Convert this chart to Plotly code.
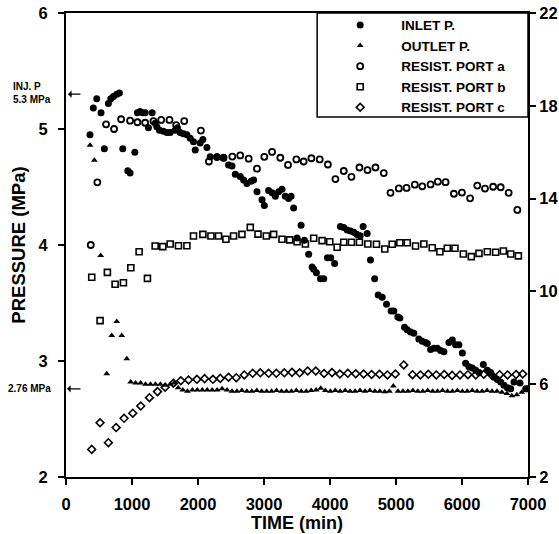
import plotly.graph_objects as go

# ---------------- data ----------------
inlet_t = [364, 414, 466, 531, 581, 642, 678, 718, 769, 809, 860, 936, 971, 1043, 1082, 1123, 1164, 1199,
           1249, 1305, 1351, 1376, 1416, 1477, 1528, 1578, 1654, 1689, 1730, 1780, 1832, 1882, 1932, 1958,
           2033, 2074, 2135, 2185, 2287, 2387, 2463, 2515, 2565, 2640, 2691, 2742, 2803, 2842, 2894, 2970,
           3005, 3070, 3122, 3172, 3222, 3273, 3323, 3373, 3410, 3449, 3501, 3562, 3612, 3677, 3729, 3753,
           3794, 3855, 3905, 3961, 4011, 4070, 4158, 4208, 4260, 4310, 4360, 4411, 4457, 4502, 4563, 4613,
           4677, 4730, 4791, 4856, 4927, 4967, 5028, 5058, 5129, 5170, 5220, 5270, 5346, 5398, 5448, 5474,
           5524, 5574, 5625, 5675, 5726, 5801, 5853, 5903, 5953, 6005, 6055, 6105, 6157, 6207, 6257, 6323,
           6384, 6434, 6484, 6536, 6586, 6636, 6688, 6738, 6788, 6879, 6965, 7000]
inlet_p = [4.95, 5.18, 5.26, 5.14, 4.83, 5.22, 5.26, 5.28, 5.30, 5.31, 4.83, 4.64, 4.62, 4.80, 5.14, 5.15, 5.14, 5.14,
           5.01, 5.14, 5.05, 5.02, 4.99, 4.98, 4.97, 4.97, 4.99, 5.01, 4.97, 4.96, 4.95, 4.92, 4.89, 4.82,
           4.88, 4.91, 4.84, 4.76, 4.76, 4.75, 4.69, 4.68, 4.61, 4.59, 4.56, 4.53, 4.55, 4.56, 4.46, 4.39,
           4.34, 4.47, 4.45, 4.42, 4.46, 4.48, 4.42, 4.40, 4.42, 4.32, 4.06, 4.17, 4.04, 3.92, 3.81, 3.79,
           3.76, 3.71, 3.71, 3.89, 3.89, 3.84, 4.16, 4.15, 4.13, 4.12, 4.11, 4.09, 4.08, 4.16, 4.10, 3.87,
           3.71, 3.57, 3.55, 3.49, 3.43, 3.43, 3.38, 3.37, 3.29, 3.27, 3.25, 3.24, 3.19, 3.17, 3.16, 3.15,
           3.10, 3.11, 3.11, 3.09, 3.08, 3.16, 3.18, 3.14, 3.14, 3.07, 2.98, 2.95, 2.94, 2.92, 2.90, 2.97,
           2.92, 2.90, 2.86, 2.84, 2.82, 2.79, 2.77, 2.76, 2.82, 2.81, 2.76, 2.76]

outlet_t = [364, 430, 526, 617, 693, 769, 845, 921,
            980, 1055, 1130, 1205, 1280, 1355, 1430, 1505, 1580, 1640, 1700, 1770, 1840, 1915, 1990, 2065,
            2140, 2215, 2290, 2365, 2440, 2515, 2590, 2665, 2740, 2815, 2890, 2965, 3040, 3115, 3190, 3265,
            3340, 3415, 3490, 3565, 3640, 3715, 3790, 3860, 3930, 4005, 4080, 4155, 4230, 4305, 4380, 4455,
            4530, 4605, 4680, 4755, 4830, 4900, 4960, 5030, 5105, 5180, 5255, 5330, 5405, 5480, 5555, 5630,
            5705, 5780, 5855, 5930, 6005, 6080, 6155, 6230, 6305, 6380, 6455, 6530, 6605, 6680, 6755, 6830,
            6905, 6980]
outlet_p = [4.86, 4.73, 3.91, 2.89, 3.22, 3.34, 3.22, 3.02,
            2.82, 2.81, 2.81, 2.80, 2.80, 2.80, 2.80, 2.79, 2.80, 2.81, 2.77, 2.75, 2.74, 2.75, 2.75, 2.75,
            2.75, 2.75, 2.75, 2.76, 2.75, 2.74, 2.74, 2.745, 2.74, 2.74, 2.745, 2.74, 2.74, 2.74, 2.745, 2.74,
            2.74, 2.74, 2.745, 2.74, 2.74, 2.745, 2.75, 2.765, 2.745, 2.74, 2.745, 2.74, 2.745, 2.74, 2.74, 2.745,
            2.74, 2.745, 2.74, 2.74, 2.735, 2.74, 2.785, 2.74, 2.74, 2.74, 2.745, 2.74, 2.74, 2.745, 2.74, 2.74,
            2.745, 2.74, 2.74, 2.745, 2.74, 2.74, 2.745, 2.74, 2.74, 2.745, 2.74, 2.74, 2.73, 2.72, 2.70, 2.71,
            2.73, 2.75]

port_a_t = [375, 475, 607, 728, 835, 971, 1082, 1199, 1325, 1442, 1568, 1669, 1791, 2044, 2165, 2287, 2387,
            2520, 2640, 2768, 2894, 3005, 3122, 3247, 3364, 3490, 3601, 3718, 3844, 3968, 4082, 4208, 4325,
            4446, 4568, 4689, 4815, 4917, 5043, 5160, 5285, 5398, 5524, 5634, 5751, 5877, 5999, 6123, 6232,
            6348, 6472, 6586, 6707, 6839]
port_a_r = [12.0, 14.7, 17.2, 17.0, 17.42, 17.36, 17.29, 17.27, 17.34, 17.39, 17.39, 17.17, 17.34, 16.93, 15.6,
            15.79, 15.76, 15.81, 15.86, 15.72, 15.29, 15.8, 16.01, 15.76, 15.45, 15.69, 15.6, 15.74, 15.69,
            15.47, 14.84, 15.19, 14.94, 15.34, 15.23, 15.34, 15.10, 14.25, 14.44, 14.46, 14.60, 14.53, 14.61,
            14.73, 14.71, 14.21, 14.26, 14.01, 14.56, 14.43, 14.51, 14.49, 14.25, 13.51]

port_b_t = [390, 516, 627, 744, 870, 982, 1108, 1234, 1351, 1467, 1578, 1704, 1832, 1932, 2074, 2196, 2311,
            2423, 2539, 2666, 2792, 2909, 3035, 3146, 3273, 3389, 3501, 3627, 3753, 3880, 3996, 4108, 4208,
            4325, 4446, 4573, 4704, 4830, 4942, 5058, 5170, 5296, 5422, 5549, 5665, 5777, 5893, 6020, 6141,
            6257, 6384, 6510, 6627, 6738, 6854]
port_b_r = [10.61, 8.74, 10.82, 10.31, 10.37, 11.02, 11.71, 10.56, 11.96, 11.93, 12.04, 11.97, 11.97, 12.39,
            12.46, 12.39, 12.39, 12.25, 12.39, 12.46, 12.76, 12.47, 12.39, 12.46, 12.25, 12.22, 12.14, 12.04,
            12.29, 12.19, 12.14, 11.90, 12.12, 12.12, 12.12, 12.04, 12.03, 11.83, 12.03, 12.10, 12.10, 11.96,
            12.04, 11.88, 11.71, 11.86, 11.86, 11.61, 11.50, 11.64, 11.71, 11.69, 11.74, 11.61, 11.53]

port_c_t = [390, 516, 642, 759, 880, 1012, 1133, 1264, 1386, 1502, 1628, 1740, 1856, 1983, 2100, 2226, 2337,
            2463, 2580, 2701, 2828, 2944, 3070, 3187, 3308, 3424, 3540, 3662, 3785, 3910, 4030, 4150, 4270,
            4390, 4510, 4630, 4750, 4870, 4990, 5118, 5250, 5370, 5490, 5610, 5730, 5850, 5970, 6090, 6210,
            6330, 6450, 6570, 6690, 6820, 6920]
port_c_r = [3.19, 4.34, 3.48, 4.13, 4.53, 4.75, 5.06, 5.42, 5.68, 5.87, 6.04, 6.15, 6.18, 6.21, 6.24, 6.21,
            6.25, 6.30, 6.28, 6.40, 6.47, 6.49, 6.47, 6.47, 6.49, 6.51, 6.49, 6.57, 6.57, 6.46, 6.50, 6.44,
            6.47, 6.45, 6.44, 6.42, 6.43, 6.40, 6.44, 6.83, 6.41, 6.40, 6.43, 6.40, 6.42, 6.38, 6.40, 6.41,
            6.40, 6.43, 6.40, 6.41, 6.40, 6.42, 6.44]

x_ticks = [0, 1000, 2000, 3000, 4000, 5000, 6000, 7000]
left_ticks = [2, 3, 4, 5, 6]
right_ticks = [2, 6, 10, 14, 18, 22]

# ---------------- figure ----------------
FONT = "Liberation Sans, Arial, sans-serif"
fig = go.Figure()

fig.add_trace(go.Scatter(x=inlet_t, y=inlet_p, mode="markers", name="<b>INLET P.</b>",
                         marker=dict(symbol="circle", size=7, color="black")))
fig.add_trace(go.Scatter(x=outlet_t, y=outlet_p, mode="markers", name="<b>OUTLET P.</b>",
                         marker=dict(symbol="triangle-up", size=6, color="black")))
fig.add_trace(go.Scatter(x=port_a_t, y=port_a_r, mode="markers", name="<b>RESIST. PORT a</b>", yaxis="y2",
                         marker=dict(symbol="circle-open", size=6, color="black", line=dict(width=1.8))))
fig.add_trace(go.Scatter(x=port_b_t, y=port_b_r, mode="markers", name="<b>RESIST. PORT b</b>", yaxis="y2",
                         marker=dict(symbol="square-open", size=6, color="black", line=dict(width=1.6))))
fig.add_trace(go.Scatter(x=port_c_t, y=port_c_r, mode="markers", name="<b>RESIST. PORT c</b>", yaxis="y2",
                         marker=dict(symbol="diamond-open", size=6, color="black", line=dict(width=1.6))))

axis_common = dict(showline=True, linecolor="black", linewidth=2, ticks="outside", ticklen=6,
                   tickwidth=2, tickcolor="black", showgrid=False, zeroline=False, automargin=False,
                   tickfont=dict(family=FONT, size=16.5, color="black", weight="bold"))

fig.update_layout(
    width=559, height=534,
    margin=dict(l=66, r=31, t=13, b=57, autoexpand=False),
    paper_bgcolor="white", plot_bgcolor="white",
    font=dict(family=FONT, color="black"),
    xaxis=dict(range=[0, 7000], tickvals=x_ticks, mirror=True, ticklabelstandoff=5,
               title=dict(text="<b>TIME (min)</b>", font=dict(size=18), standoff=2), **axis_common),
    yaxis=dict(range=[2, 6], tickvals=left_ticks, ticklabelstandoff=7,
               title=dict(text="<b>PRESSURE (MPa)</b>", font=dict(size=18.5), standoff=8), **axis_common),
    yaxis2=dict(range=[2, 22], tickvals=right_ticks, overlaying="y", side="right", ticklabelstandoff=0,
                **axis_common),
    showlegend=True,
    legend=dict(x=0.548, y=1.007, xanchor="left", yanchor="top", bgcolor="rgba(0,0,0,0)",
                borderwidth=0, itemwidth=72, font=dict(family=FONT, size=13.5, color="black")),
)

# legend frame
fig.add_shape(type="rect", xref="paper", yref="paper", x0=0.5436, x1=1.0, y0=0.776, y1=1.0,
              line=dict(color="black", width=1.5), fillcolor="white", layer="below")

# annotations
fig.add_annotation(x=0, y=5.3, xref="x", yref="y", ax=16, ay=0, text="", showarrow=True,
                   arrowhead=1, arrowsize=1, arrowwidth=1.2, arrowcolor="black", standoff=2)
fig.add_annotation(x=0, y=2.76, xref="x", yref="y", ax=16, ay=0, text="", showarrow=True,
                   arrowhead=1, arrowsize=1, arrowwidth=1.2, arrowcolor="black", standoff=1)
fig.add_annotation(x=-0.118, y=0.828, xref="paper", yref="paper", xanchor="left", yanchor="middle",
                   align="left", showarrow=False, text="<b>INJ. P<br>5.3 MPa</b>",
                   font=dict(family=FONT, size=10, color="black"))
fig.add_annotation(x=-0.129, y=0.19, xref="paper", yref="paper", xanchor="left", yanchor="middle",
                   align="left", showarrow=False, text="<b>2.76 MPa</b>",
                   font=dict(family=FONT, size=10, color="black"))

fig.write_html("out.html")
